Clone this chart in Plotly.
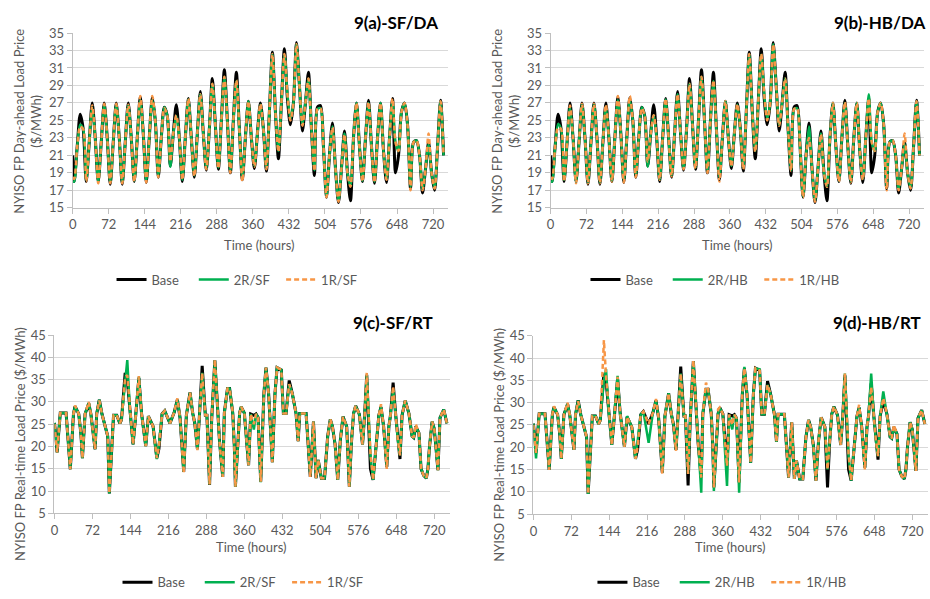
import plotly.graph_objects as go

# ---------------------------------------------------------------- data
# Day-ahead prices ($/MWh), sampled every 6 hours (plus hour 0)
hours_da = [0] + list(range(3, 744, 6))

base_da = [
    21,
    18, 22, 25.7, 24,
    18, 22.5, 27, 23,
    18, 22.5, 27, 23,
    17.7, 22.5, 27, 23,
    17.7, 22.5, 27, 23,
    18, 23, 27.7, 23.5,
    17.9, 23, 27.6, 25,
    18.5, 23, 26.5, 25.5,
    19.8, 23.5, 26.8, 23,
    18, 23, 27.5, 23,
    18.5, 23.5, 28.3, 23.5,
    19.3, 24, 29.8, 24.5,
    19.4, 25, 30.8, 25,
    19, 25, 30.5, 24,
    18.2, 23, 27.2, 23,
    19.5, 23.5, 27, 24,
    19.2, 26, 32.8, 26,
    20.6, 27, 33.2, 27.5,
    24.5, 27, 33.9, 29,
    23.8, 27, 30.5, 24,
    18.7, 26.5, 26.7, 22,
    16.2, 21, 24.7, 19.5,
    15.6, 19.5, 23.8, 19,
    15.8, 23, 27, 22,
    18, 23, 27.3, 22,
    17.8, 23, 27, 21.5,
    17.9, 23, 27.5, 19,
    21, 26, 27, 24.5,
    17.2, 22.5, 22.7, 21,
    16.7, 19.5, 22.5, 19,
    17, 22, 27.3, 21,
]

r2_sf_da = [
    18,
    18, 22, 24.5, 24,
    18.2, 22.5, 26.5, 23,
    18, 22.5, 26.8, 23,
    17.9, 22.5, 26.8, 23,
    17.9, 22.5, 26.7, 23,
    18.1, 23, 27.3, 23.5,
    18.1, 23, 27.3, 25,
    18.7, 23, 26.5, 25.5,
    19.7, 23.5, 25.5, 23,
    18.2, 23, 27.4, 23,
    18.7, 23.5, 28, 23.5,
    19.5, 24, 29.2, 24.5,
    19.6, 25, 30, 25,
    19.2, 25, 29.5, 24,
    18.5, 23, 27.2, 23,
    19.8, 23.5, 26.8, 24,
    19.6, 26, 32.6, 26,
    21.5, 27, 32.5, 28,
    25.2, 27, 33.7, 29,
    24.5, 27, 29.8, 24,
    19.3, 26.3, 26.4, 22,
    16.3, 21, 24.3, 19.5,
    15.8, 19.5, 23.5, 19,
    17.5, 23, 27, 22,
    18.1, 23, 27, 22,
    18, 23, 27, 21.5,
    18.3, 23, 27.2, 22.5,
    21.5, 26, 27, 24.5,
    17.4, 22.5, 22.7, 21,
    17.1, 19.5, 22.3, 19,
    17.3, 22, 27.2, 21,
]

r1_sf_da = [
    18.5,
    18.3, 22, 24.3, 24,
    18, 22.5, 26.7, 23,
    17.8, 22.5, 26.9, 23,
    17.8, 22.5, 26.9, 23,
    17.8, 22.5, 26.8, 23,
    18, 23, 27.8, 23.5,
    17.9, 23, 27.8, 25,
    18.5, 23, 26.4, 25.5,
    20.3, 23.5, 25.6, 23,
    18.2, 23, 27.5, 23,
    18.6, 23.5, 28, 23.5,
    19.4, 24, 29.2, 24.5,
    19.5, 25, 30, 25,
    19, 25, 29.6, 24,
    18, 23, 27.2, 23,
    19.7, 23.5, 26.9, 24,
    19.4, 26, 32.6, 26,
    21.4, 27, 32.6, 28,
    25, 27, 33.7, 29,
    24.4, 27, 29.8, 24,
    19.2, 26.3, 26.4, 22,
    16.2, 21, 24.2, 19.5,
    15.7, 19.5, 23.4, 19,
    17.4, 23, 27, 22,
    18, 23, 27.1, 22,
    17.9, 23, 27, 21.5,
    18.2, 23, 27.5, 22.5,
    21.5, 26, 27, 24.5,
    17, 22.5, 22.7, 21,
    17, 19.5, 23.5, 19,
    17.2, 22, 27.2, 21,
]

r2_hb_da = [
    18,
    18, 22, 24.6, 24,
    18.2, 22.5, 26.5, 23,
    18, 22.5, 26.8, 23,
    17.9, 22.5, 26.8, 23,
    17.9, 22.5, 26.6, 23,
    18.1, 23, 27.3, 23.5,
    18.1, 23, 27.3, 25,
    18.7, 23, 26.5, 25.5,
    19.7, 23.5, 25.6, 23,
    18.2, 23, 27.4, 23,
    18.7, 23.5, 28, 23.5,
    19.5, 24, 29.2, 24.5,
    19.6, 25, 30, 25,
    19.2, 25, 29.5, 24,
    18.5, 23, 27.2, 23,
    19.8, 23.5, 26.8, 24,
    19.6, 26, 32.6, 26,
    21.5, 27, 32.5, 28,
    25.2, 27, 33.7, 29,
    24.5, 27, 29.8, 24,
    19.3, 26.3, 26.4, 22,
    16.3, 21, 24.3, 19.5,
    15.8, 19.5, 23.5, 19,
    17.5, 23, 27, 22,
    18.1, 23, 27, 22,
    18, 23, 27, 21.5,
    18.3, 23, 28, 22.5,
    21.5, 26, 27, 24.5,
    17.4, 22.5, 22.7, 21,
    17.1, 19.5, 22.3, 19,
    17.3, 22, 27.2, 21,
]

r1_hb_da = [
    18.5,
    18.3, 22, 24.2, 24,
    18, 22.5, 26.7, 23,
    17.8, 22.5, 26.9, 23,
    17.8, 22.5, 26.9, 23,
    17.8, 22.5, 26.8, 23,
    18, 23, 27.8, 23.5,
    17.9, 23, 27.8, 25,
    18.5, 23, 26.4, 25.5,
    20.3, 23.5, 25.6, 23,
    18.2, 23, 27.5, 23,
    18.6, 23.5, 28, 23.5,
    19.4, 24, 29.2, 24.5,
    19.5, 25, 30, 25,
    19, 25, 29.6, 24,
    18, 23, 27.2, 23,
    19.7, 23.5, 26.9, 24,
    19.4, 26, 32.6, 26,
    21.4, 27, 32.6, 28,
    25, 27, 33.7, 29,
    24.4, 27, 29.8, 24,
    19.2, 26.3, 26.4, 22,
    16.2, 21, 23, 19.5,
    15.7, 19.5, 23.4, 19,
    17.4, 23, 27, 22,
    18, 23, 27.1, 22,
    17.9, 23, 27, 21.5,
    18.2, 23, 27.5, 22.5,
    21.5, 26, 27, 24.5,
    17, 22.5, 22.7, 21,
    17, 19.5, 23.5, 19,
    17.2, 22, 27.2, 21,
]

# Real-time prices ($/MWh) at the turning points of the hourly series
hours_rt = [
    0, 5, 11, 22, 30, 36, 39, 46, 50, 53,
    58, 65, 69, 74, 77, 80, 85, 90, 96, 101,
    104, 112, 118, 124, 127, 134, 138, 143, 149, 154,
    160, 165, 173, 178, 187, 194, 198, 204, 209, 219,
    227, 233, 238, 245, 250, 257, 262, 266, 271, 275,
    280, 286, 289, 294, 298, 304, 309, 313, 319, 322,
    328, 332, 338, 341, 343, 351, 354, 360, 368, 372,
    378, 382, 386, 391, 397, 401, 406, 413, 418, 422,
    430, 434, 439, 445, 451, 458, 462, 465, 477, 485,
    491, 496, 500, 506, 512, 518, 523, 527, 532, 537,
    542, 547, 554, 559, 563, 567, 571, 578, 584, 588,
    592, 595, 599, 604, 612, 615, 619, 624, 630, 634,
    637, 642, 647, 651, 655, 659, 665, 672, 678, 681,
    685, 691, 695, 700, 705, 708, 711, 716, 720, 727,
    731, 738, 744,
]

base_rt = [
    25.3, 18.7, 27.5, 27.5, 14.9, 27.3, 29, 27.3, 23, 17.4,
    27.3, 29.7, 27.3, 22.3, 19.4, 27.3, 30.5, 27.3, 24.8, 22.3,
    9.5, 27, 27, 25.2, 26, 36.5, 35, 28, 20.5, 27,
    35.4, 27.5, 20.1, 26.8, 24.5, 17.4, 19.5, 27.3, 28, 25.2,
    27.7, 30.5, 26.5, 14.3, 27, 32.1, 27.5, 25.2, 19.4, 27.3,
    38.1, 27, 27, 11.4, 26, 39.3, 28.8, 21, 13.2, 27.5,
    33, 33, 27.5, 20, 11, 27.5, 28.9, 27.5, 15.8, 27.3,
    27, 27.3, 26.5, 12.1, 31.8, 37.7, 31.8, 16.5, 31.8, 37.7,
    37.2, 27.4, 27.4, 34.8, 31.8, 27.4, 21.2, 27.4, 27.4, 13.2,
    25.6, 12.9, 17, 12.9, 12.9, 22.3, 26.1, 24.5, 20.5, 12.5,
    21.5, 26.7, 24.5, 11, 21, 27.4, 29.1, 27.2, 20.5, 27,
    36.1, 27, 15, 12.5, 23, 27, 28.9, 24.5, 15.4, 24.5,
    27, 34.3, 27, 21.5, 17.2, 27, 30.3, 27.4, 22.3, 22,
    24.5, 23, 15, 13.5, 12.9, 15, 20, 25.6, 24, 14.7,
    26.5, 28.3, 25.2,
]

r2_sf_rt = [
    25.3, 18.7, 27.5, 27.5, 14.9, 27.3, 29, 27.3, 23, 17.4,
    27.3, 29.7, 27.3, 22.3, 19.4, 27.3, 30.5, 27.3, 24.8, 22.3,
    9.5, 27, 27, 25.2, 26, 35, 39.4, 28, 20.5, 27,
    35.6, 27.5, 20.1, 26.8, 24.5, 17.2, 20.5, 27.3, 28, 25.2,
    27.7, 30.5, 26.5, 14.3, 27, 32.1, 27.5, 25.2, 19.4, 27.3,
    36.5, 27, 27, 11.5, 26, 39.3, 28.8, 21, 13.2, 27.5,
    33, 33, 27.5, 20, 11, 27.5, 28.9, 27.5, 15.8, 27.3,
    23.8, 27.3, 26.5, 12, 31.8, 37.7, 31.8, 16.5, 31.8, 37.7,
    37.2, 27.4, 27.4, 34, 31.8, 27.4, 21.2, 27.4, 27.4, 13.5,
    25.6, 12.9, 17, 12.9, 12.9, 22.3, 26.1, 24.5, 20.5, 12.5,
    21.5, 26.7, 24.5, 11, 21, 27.4, 29.1, 27.2, 20.5, 27,
    36.1, 27, 18, 12.5, 23, 27, 28.9, 24.5, 15.5, 24.5,
    27, 33, 27, 21.5, 18, 27, 30.3, 27.4, 22.3, 22,
    24.5, 23, 15, 13.5, 12.9, 15, 20, 25.6, 24, 14.7,
    26.5, 28.3, 25.2,
]

r1_sf_rt = [
    25, 18.7, 27.5, 27.5, 14.9, 27.3, 29.2, 27.3, 23, 17.4,
    27.3, 30, 27.3, 22.3, 19.4, 27.3, 30.3, 27.3, 24.8, 22.3,
    9.5, 27, 27, 25.2, 26, 35.5, 36, 28, 20.5, 27,
    35.8, 27.5, 20.1, 26.8, 24.5, 17.4, 20, 27.3, 28, 25.2,
    27.7, 30.8, 26.5, 14, 27, 32.1, 27.5, 25.2, 19.2, 27.3,
    36.5, 27, 27, 11.5, 26, 39.5, 28.8, 21, 13.2, 27.5,
    33, 33, 27.5, 20, 11, 27.5, 28.9, 27.5, 15.8, 27.3,
    25, 27.3, 26.5, 12.1, 31.8, 37.7, 31.8, 16.5, 31.8, 37.7,
    37.2, 27.4, 27.4, 34, 31.8, 27.4, 21.2, 27.4, 27.4, 13.2,
    25.6, 12.9, 17, 12.9, 12.9, 22.3, 26.1, 24.5, 20.5, 12.5,
    21.5, 26.7, 24.5, 11, 21, 27.4, 29.1, 27.2, 20.5, 27,
    36.5, 27, 18.5, 12.5, 23, 27, 29.5, 24.5, 15, 24.5,
    27, 33.5, 27, 21.5, 18, 27, 30.3, 27.4, 22.3, 22,
    25, 23, 15, 13.5, 12.9, 15, 20, 25.6, 24, 14.7,
    26.5, 28.3, 25.2,
]

r2_hb_rt = [
    25.3, 17.5, 27.5, 27.5, 14.9, 27.3, 29, 27.3, 23, 17.4,
    27.3, 29.7, 27.3, 22.3, 19.4, 27.3, 30.5, 27.3, 24.8, 22.3,
    9.5, 27, 27, 25.2, 26, 35, 37.5, 28, 20.5, 27,
    36, 27.5, 20.1, 27, 24.5, 17.4, 21, 27.3, 28, 21,
    27.7, 30.5, 26.5, 14.3, 27, 32.1, 27.5, 25.2, 19.4, 27.3,
    36.5, 27, 27, 14, 26, 39.3, 28.8, 21, 9.8, 27.5,
    33, 33, 27.5, 20, 10.2, 27.5, 28.9, 27.5, 11.3, 27.3,
    24, 27.3, 26.5, 9.8, 31.8, 38, 31.8, 16.5, 31.8, 37.7,
    37.5, 27.4, 27.4, 34, 31.8, 27.4, 21.2, 27.4, 27.4, 13.2,
    25.6, 12.9, 17, 12.9, 12.9, 22.3, 26.1, 24.5, 20.5, 12.5,
    21.5, 26.7, 24.5, 15, 21, 27.4, 29.1, 27.2, 20.5, 27,
    36.5, 27, 18, 12.5, 23, 27, 28.9, 24.5, 15.4, 24.5,
    27, 36.5, 27, 21.5, 18, 27, 32.5, 27.4, 22.3, 22,
    24.5, 23, 15, 13.5, 12.9, 15, 20, 25.6, 24, 14.7,
    26.5, 28.3, 25.2,
]

r1_hb_rt = [
    25, 18.7, 27.5, 27.5, 14.9, 27.3, 29.2, 27.3, 23, 17.4,
    27.3, 30, 27.3, 22.3, 19.4, 27.3, 30.3, 27.3, 24.8, 22.3,
    9.5, 27, 27, 25.2, 26, 44, 36, 28, 20.5, 27,
    35.8, 27.5, 20.1, 26.8, 24.5, 17.4, 20, 27.3, 28, 25.2,
    27.7, 30.8, 26.5, 14, 27, 32.1, 27.5, 25.2, 19.2, 27.3,
    36.5, 27, 27, 14, 26, 39.5, 28.8, 21, 13.2, 27.5,
    34.5, 33, 27.5, 20, 11, 28.5, 28.9, 27.5, 15.8, 27.3,
    25, 27.3, 26.5, 12.1, 31.8, 37.7, 31.8, 16.5, 31.8, 37.7,
    37.2, 27.4, 27.4, 34, 31.8, 27.4, 21.2, 27.4, 27.4, 13.2,
    25.6, 12.9, 17, 12.9, 12.9, 22.3, 26.1, 24.5, 20.5, 12.5,
    21.5, 26.7, 24.5, 15, 21, 27.4, 29.1, 27.2, 20.5, 27,
    36.5, 27, 18.5, 12.5, 23, 27, 29.5, 24.5, 15, 24.5,
    27, 33.5, 27, 21.5, 18, 27, 31, 27.4, 22.3, 22,
    25, 23, 15, 13.5, 12.9, 15, 20, 25.6, 24, 14.7,
    26.5, 28.3, 25.2,
]

hour_ticks = [0, 72, 144, 216, 288, 360, 432, 504, 576, 648, 720]

# ---------------------------------------------------------------- styling
W, H = 930, 599
FONT = "Lato, 'Open Sans', sans-serif"
GREY = "#595959"
STYLES = [
    dict(color="black", width=3),
    dict(color="#00B050", width=2.5),
    dict(color="#F79646", width=2.5, dash="5px,3px"),
]
# trailing non-breaking spaces widen the legend entries a little
PAD = ["\u00a0\u00a0\u00a0", "\u00a0\u00a0", ""]

panels = [
    dict(title="9(a)-SF/DA", names=["Base", "2R/SF", "1R/SF"], x=hours_da,
         ys=[base_da, r2_sf_da, r1_sf_da], box=(69, 446, 25.7, 205.3),
         yr=[15, 35], dt=2, shape="spline", ytitle="NYISO FP Day-ahead Load Price<br>($/MWh)",
         ytx=24, yty=116, xtx=257, xty=243, tx=438, ty=15, lx=108, ly=279),
    dict(title="9(b)-HB/DA", names=["Base", "2R/HB", "1R/HB"], x=hours_da,
         ys=[base_da, r2_hb_da, r1_hb_da], box=(549, 924, 25.7, 205.3),
         yr=[15, 35], dt=2, shape="spline", ytitle="NYISO FP Day-ahead Load Price<br>($/MWh)",
         ytx=504, yty=116, xtx=737, xty=243, tx=927, ty=15, lx=584, ly=279),
    dict(title="9(c)-SF/RT", names=["Base", "2R/SF", "1R/SF"], x=hours_rt,
         ys=[base_rt, r2_sf_rt, r1_sf_rt], box=(50.7, 448, 336, 519.3),
         yr=[5, 45], dt=5, shape="linear", ytitle="NYISO FP Real-time Load Price ($/MWh)",
         ytx=16, yty=448, xtx=249, xty=554, tx=433, ty=323, lx=114, ly=590),
    dict(title="9(d)-HB/RT", names=["Base", "2R/HB", "1R/HB"], x=hours_rt,
         ys=[base_rt, r2_hb_rt, r1_hb_rt], box=(531.7, 928, 336.7, 520),
         yr=[5, 45], dt=5, shape="linear", ytitle="NYISO FP Real-time Load Price ($/MWh)",
         ytx=497, yty=449, xtx=730, xty=554, tx=923, ty=323, lx=591, ly=590),
]

fig = go.Figure()
layout = dict(
    width=W, height=H, margin=dict(l=0, r=0, t=0, b=0),
    paper_bgcolor="white", plot_bgcolor="white",
    font=dict(family=FONT, size=13, color=GREY),
    annotations=[],
)

for i, p in enumerate(panels):
    n = "" if i == 0 else str(i + 1)
    xa, ya, lg = "x" + n, "y" + n, "legend" + n
    for name, y, st, pad in zip(p["names"], p["ys"], STYLES, PAD):
        fig.add_trace(go.Scatter(
            x=p["x"], y=y, name=name + pad, mode="lines", xaxis=xa, yaxis=ya,
            legend=lg, line=dict(shape=p["shape"], smoothing=0.8, **st),
            hoverinfo="skip",
        ))
    x0, x1, yt, yb = p["box"]
    layout["xaxis" + n] = dict(
        domain=[x0 / W, x1 / W], range=[0, 750], anchor=ya,
        tickmode="array", tickvals=hour_ticks, ticks="outside", ticklen=5,
        tickcolor="#BFBFBF", showline=True, linecolor="#BFBFBF", linewidth=1,
        showgrid=False, zeroline=False, tickfont=dict(size=13, color=GREY),
    )
    layout["yaxis" + n] = dict(
        domain=[1 - yb / H, 1 - yt / H], range=p["yr"], tick0=p["yr"][0],
        dtick=p["dt"], anchor=xa,
        ticks="outside", ticklen=5, tickcolor="#BFBFBF", showline=True,
        linecolor="#BFBFBF", linewidth=1, showgrid=True, gridcolor="#D9D9D9",
        zeroline=False, tickfont=dict(size=13, color=GREY),
    )
    layout[lg] = dict(
        orientation="h", x=p["lx"] / W, y=1 - p["ly"] / H, xanchor="left",
        yanchor="middle", bgcolor="rgba(0,0,0,0)", font=dict(size=13, color=GREY),
        itemwidth=30,
    )
    layout["annotations"] += [
        dict(text=f"<b>{p['title']}</b>", x=p["tx"] / W, y=1 - p["ty"] / H,
             xref="paper", yref="paper", xanchor="right", yanchor="middle",
             showarrow=False, font=dict(size=17, color="black")),
        dict(text=p["ytitle"], x=p["ytx"] / W, y=1 - p["yty"] / H, textangle=-90,
             xref="paper", yref="paper", xanchor="center", yanchor="middle",
             showarrow=False, font=dict(size=13, color=GREY)),
        dict(text="Time (hours)", x=p["xtx"] / W, y=1 - p["xty"] / H,
             xref="paper", yref="paper", xanchor="center", yanchor="middle",
             showarrow=False, font=dict(size=13, color=GREY)),
    ]

fig.update_layout(**layout)
fig.write_html("out.html")
